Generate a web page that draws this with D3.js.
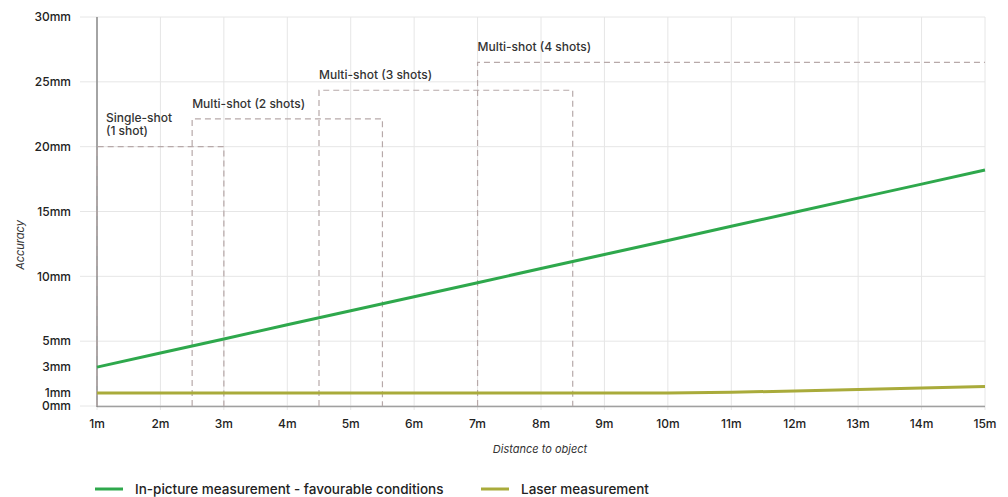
<!DOCTYPE html>
<html><head><meta charset="utf-8">
<script src="https://cdn.jsdelivr.net/npm/d3@7"></script>
<style>body{margin:0;background:#fff;}svg{display:block;font-family:Inter,"Noto Sans",sans-serif;}</style>
</head><body><svg id="c" width="1008" height="497"></svg>
<script>
const distances = [1,2,3,4,5,6,7,8,9,10,11,12,13,14,15];
const inPicture = [3.0,4.09,5.17,6.26,7.34,8.43,9.51,10.6,11.69,12.77,13.86,14.94,16.03,17.11,18.2];
const laser = [1,1,1,1,1,1,1,1,1,1,1.06,1.16,1.28,1.39,1.5];
const yTicks = [0,1,3,5,10,15,20,25,30];
const yGrid = [0,5,10,15,20,25,30];
const seriesNames = ["In-picture measurement - favourable conditions","Laser measurement"];
const seriesColors = ["#2ea84c","#a9ab3b"];
const shotModes = ["Single-shot|(1 shot)","Multi-shot (2 shots)","Multi-shot (3 shots)","Multi-shot (4 shots)"];
const shotStart = [1,2.5,4.5,7];
const shotEnd = [3,5.5,8.5,15];
const shotLevel = [20,22.15,24.35,26.5];

const svg = d3.select("#c");
const x = d3.scaleLinear().domain([1,15]).range([97,985]);
const y = d3.scaleLinear().domain([0,30]).range([406,17]);

// grid
svg.append("g").selectAll("line").data(yGrid).join("line")
  .attr("x1",80).attr("x2",985).attr("y1",d=>y(d)).attr("y2",d=>y(d))
  .attr("stroke","#e6e6e6").attr("stroke-width",1);
svg.append("g").selectAll("line").data(distances).join("line")
  .attr("x1",d=>x(d)).attr("x2",d=>x(d)).attr("y1",y(30)).attr("y2",y(0)+4)
  .attr("stroke","#e6e6e6").attr("stroke-width",1);

// axes lines
svg.append("line").attr("x1",x(1)).attr("x2",x(15)).attr("y1",y(0)+0.5).attr("y2",y(0)+0.5).attr("stroke","#a0a0a0").attr("stroke-width",1.5);
svg.append("line").attr("x1",x(1)).attr("x2",x(1)).attr("y1",y(30)).attr("y2",y(0)+1).attr("stroke","#8a8a8a").attr("stroke-width",1.5);

// tick labels
svg.append("g").selectAll("text").data(yTicks).join("text")
  .attr("x",71).attr("y",d=>y(d)).attr("dy","0.35em").attr("text-anchor","end")
  .attr("font-size",12).attr("font-weight",500).attr("fill","#222").text(d=>d+"mm");
svg.append("g").selectAll("text").data(distances).join("text")
  .attr("x",d=>x(d)).attr("y",428).attr("text-anchor","middle")
  .attr("font-size",12).attr("font-weight",500).attr("fill","#222").text(d=>d+"m");

// axis titles
svg.append("text").attr("x",540).attr("y",453).attr("text-anchor","middle").attr("font-size",11)
  .attr("font-style","italic").attr("fill","#333").text("Distance to object");
svg.append("text").attr("transform","translate(24,245) rotate(-90)").attr("text-anchor","middle").attr("font-size",11)
  .attr("font-style","italic").attr("fill","#333").text("Accuracy");

// dashed shot boxes
const boxes = svg.append("g").attr("fill","none").attr("stroke","#b7a9a9").attr("stroke-width",1.2).attr("stroke-dasharray","6,4");
shotModes.forEach((m,i)=>{
  const p = d3.path();
  p.moveTo(x(shotStart[i]), y(0));
  p.lineTo(x(shotStart[i]), y(shotLevel[i]));
  p.lineTo(x(shotEnd[i]), y(shotLevel[i]));
  if (shotEnd[i] < 15) p.lineTo(x(shotEnd[i]), y(0));
  boxes.append("path").attr("d",p.toString());
  const lines = m.split("|");
  const t = svg.append("text").attr("font-size",12).attr("font-weight",500).attr("fill","#333");
  if (lines.length>1){
    t.append("tspan").attr("x",x(shotStart[i])+9).attr("y",y(shotLevel[i])-25).text(lines[0]);
    t.append("tspan").attr("x",x(shotStart[i])+9).attr("y",y(shotLevel[i])-12).text(lines[1]);
  } else {
    t.attr("x",x(shotStart[i])).attr("y",y(shotLevel[i])-11).text(lines[0]);
  }
});

// lines
const line = d3.line().x((d,i)=>x(distances[i])).y(d=>y(d));
svg.append("path").datum(laser).attr("d",line).attr("fill","none").attr("stroke",seriesColors[1]).attr("stroke-width",3);
svg.append("path").datum(inPicture).attr("d",line).attr("fill","none").attr("stroke",seriesColors[0]).attr("stroke-width",3);

// legend
const legX = [95,481];
seriesNames.forEach((n,i)=>{
  svg.append("line").attr("x1",legX[i]).attr("x2",legX[i]+28).attr("y1",489).attr("y2",489).attr("stroke",seriesColors[i]).attr("stroke-width",3);
  svg.append("text").attr("x",legX[i]+40).attr("y",489).attr("dy","0.35em").attr("font-size",13.5).attr("font-weight",500).attr("fill","#222").text(n);
});
</script></body></html>
